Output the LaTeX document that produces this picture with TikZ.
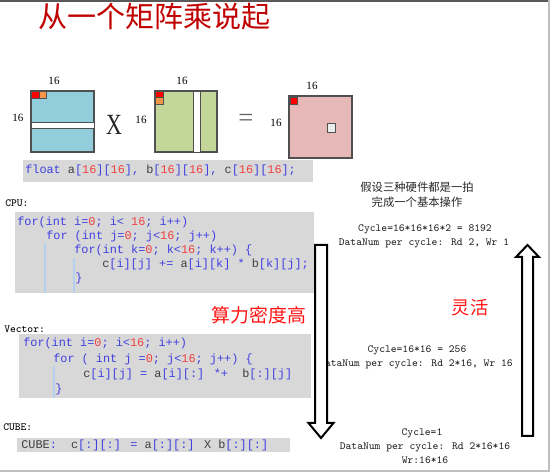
\documentclass[tikz,border=0pt]{standalone}
\usepackage{fontspec}
\usepackage{tikz}
\newfontfamily\codefont{Liberation Mono}
\newfontfamily\cjk{Noto Sans CJK SC}
\newfontfamily\numfont{Liberation Serif}
\definecolor{codegray}{RGB}{216,216,216}
\definecolor{codeblue}{RGB}{64,64,224}
\definecolor{codenum}{RGB}{240,64,64}
\definecolor{codevar}{RGB}{64,64,64}
\definecolor{guideblue}{RGB}{180,208,238}
\definecolor{notegray}{RGB}{40,40,40}
\definecolor{matblue}{RGB}{146,205,220}
\definecolor{matgreen}{RGB}{196,215,155}
\definecolor{matpink}{RGB}{230,185,184}
\definecolor{matorange}{RGB}{247,150,70}
\definecolor{matline}{RGB}{80,80,80}
\definecolor{titlered}{RGB}{192,0,0}
\definecolor{hotred}{RGB}{255,20,20}
\newcommand{\cvar}[1]{\textcolor{codevar}{#1}}
\newcommand{\cnum}[1]{\textcolor{codenum}{#1}}

\begin{document}
\begin{tikzpicture}[x=0.75pt,y=-0.75pt,>=stealth]
 \tikzstyle{codebox} = [fill=codegray]
 \tikzstyle{codeline} = [anchor=base west,inner sep=0pt,text=codeblue,font=\codefont\fontsize{8.9}{10}\selectfont]
 \tikzstyle{note} = [inner sep=0pt,text=notegray,font=\ttfamily\fontsize{8.2}{9}\selectfont]
 \tikzstyle{section} = [anchor=west,inner sep=0pt,text=black,font=\ttfamily\fontsize{8.2}{9}\selectfont]
 \tikzstyle{dimlabel} = [inner sep=0pt,font=\numfont\fontsize{8.3}{9}\selectfont]
 \tikzstyle{matrixbox} = [draw=matline,line width=0.8pt]
 \tikzstyle{cell} = [draw=matline,line width=0.6pt]
 \tikzstyle{guide} = [draw=guideblue,line width=0.8pt]
 \tikzstyle{blockarrow} = [draw=black,fill=white,line width=1.5pt]
 \tikzstyle{redtext} = [inner sep=0pt,text=hotred]

 \useasboundingbox (0,0) rectangle (557,473);

% Frame
 \draw[black!65,line width=1.5pt] (0,1) -- (549,1);
 \draw[black!25,line width=0.8pt] (549,0) -- (549,471) -- (0,471);

% Title
 \node[inner sep=0pt,text=titlered,font=\cjk\fontsize{21.75}{24}\selectfont] (title) at (154.5,17) {从一个矩阵乘说起};

% Matrix a
 \draw[matrixbox,fill=matblue] (31,91) rectangle (94,152);
 \draw[cell,fill=white] (31,122) rectangle (94,128);
 \draw[cell,fill=red] (31,91) rectangle (39,98);
 \draw[cell,fill=matorange] (39,91) rectangle (46,98);
 \node[dimlabel] (ma top) at (54,81) {16};
 \node[dimlabel] (ma left) at (18,118) {16};

 \node[inner sep=0pt,xscale=0.75,text=black!85,font=\numfont\fontsize{22}{22}\selectfont] (times) at (114,125) {X};

% Matrix b
 \draw[matrixbox,fill=matgreen] (155,91) rectangle (217,152);
 \draw[cell,fill=white] (193,91) rectangle (200,152);
 \draw[cell,fill=red] (155,91) rectangle (163,97);
 \draw[cell,fill=matorange] (155,97) rectangle (163,104);
 \node[dimlabel] (mb top) at (182,81) {16};
 \node[dimlabel] (mb left) at (141,120) {16};

 \node[inner sep=0pt,text=black!60,font=\numfont\fontsize{20}{20}\selectfont] (equals) at (246,120) {=};

% Matrix c
 \draw[matrixbox,fill=matpink] (289,96) rectangle (352,158);
 \draw[cell,fill=red] (290,97) rectangle (297,104);
 \draw[cell,fill=black!8] (327,123) rectangle (335,132);
 \node[dimlabel] (mc top) at (312,86) {16};
 \node[dimlabel] (mc left) at (276,123) {16};

% Declaration
 \fill[codebox] (23,160) rectangle (313,182);
 \node[codeline] (decl) at (25,174) {float \cvar{a}[\cnum{16}][\cnum{16}], \cvar{b}[\cnum{16}][\cnum{16}], \cvar{c}[\cnum{16}][\cnum{16}];};

% CPU
 \node[section] (cpu) at (5,203) {CPU:};
 \fill[codebox] (15,212) rectangle (314,293);
 \draw[guide] (45,243) -- (45,293);
 \draw[guide] (74,258) -- (74,293);
 \node[codeline] (cpu1) at (17,226) {for(int i=\cnum{0}; i< \cnum{16}; i++)};
 \node[codeline] (cpu2) at (46,240) {for (int j=\cnum{0}; j<\cnum{16}; j++)};
 \node[codeline] (cpu3) at (74,254) {for(int k=\cnum{0}; k<\cnum{16}; k++) \{};
 \node[codeline] (cpu4) at (102,268) {\cvar{c}[i][j] += \cvar{a}[i][k] * \cvar{b}[k][j];};
 \node[codeline] (cpu5) at (75,282) {\}};

% Vector
 \node[section] (vec) at (4,329) {Vector:};
 \fill[codebox] (19,334) rectangle (311,398);
 \draw[guide] (54,366) -- (54,398);
 \node[codeline] (vec1) at (23,347) {for(int i=\cnum{0}; i<\cnum{16}; i++)};
 \node[codeline] (vec2) at (53,363) {for ( int j =\cnum{0}; j<\cnum{16}; j++) \{};
 \node[codeline] (vec3) at (83,378) {\cvar{c}[i][j] = \cvar{a}[i][:] *+~~\cvar{b}[:][j]};
 \node[codeline] (vec4) at (55,393) {\}};

% Cube
 \node[section] (cube) at (3,427) {CUBE:};
 \fill[codebox] (17,438) rectangle (290,452);
 \node[codeline] (cube1) at (21,449) {\cvar{CUBE}:~~\cvar{c}[:][:] = \cvar{a}[:][:] \cvar{X} \cvar{b}[:][:]};

% Notes
 \node[inner sep=0pt,text=notegray,font=\cjk\fontsize{8.5}{10}\selectfont] (assume1) at (417,187) {假设三种硬件都是一拍};
 \node[inner sep=0pt,text=notegray,font=\cjk\fontsize{8.5}{10}\selectfont] (assume2) at (417,202) {完成一个基本操作};
 \node[note] (cpucyc) at (425,229) {Cycle=16*16*16*2 = 8192};
 \node[note] (cpudata) at (424,243) {DataNum per cycle: Rd 2, Wr 1};
 \node[note] (veccyc) at (417,350) {Cycle=16*16 = 256};
 \node[note] (vecdata) at (416,364) {DataNum per cycle: Rd 2*16, Wr 16};
 \node[note] (cubecyc) at (422,433) {Cycle=1};
 \node[note] (cubedata) at (425,447) {DataNum per cycle: Rd 2*16*16};
 \node[note] (cubewr) at (425,460) {Wr:16*16};

 \node[redtext,font=\cjk\fontsize{14.2}{16}\selectfont] (density) at (259,315) {算力密度高};
 \node[redtext,font=\cjk\fontsize{13.7}{16}\selectfont] (flexible) at (470,308) {灵活};

% Block arrows
 \draw[blockarrow] (315,245) -- (327,245) -- (327,423) -- (333.5,423) -- (321,438) -- (308.5,423) -- (315,423) -- cycle;
 \draw[blockarrow] (522,436) -- (522,257) -- (516,257) -- (527.5,245) -- (539,257) -- (533,257) -- (533,436) -- cycle;

\end{tikzpicture}
\end{document}
